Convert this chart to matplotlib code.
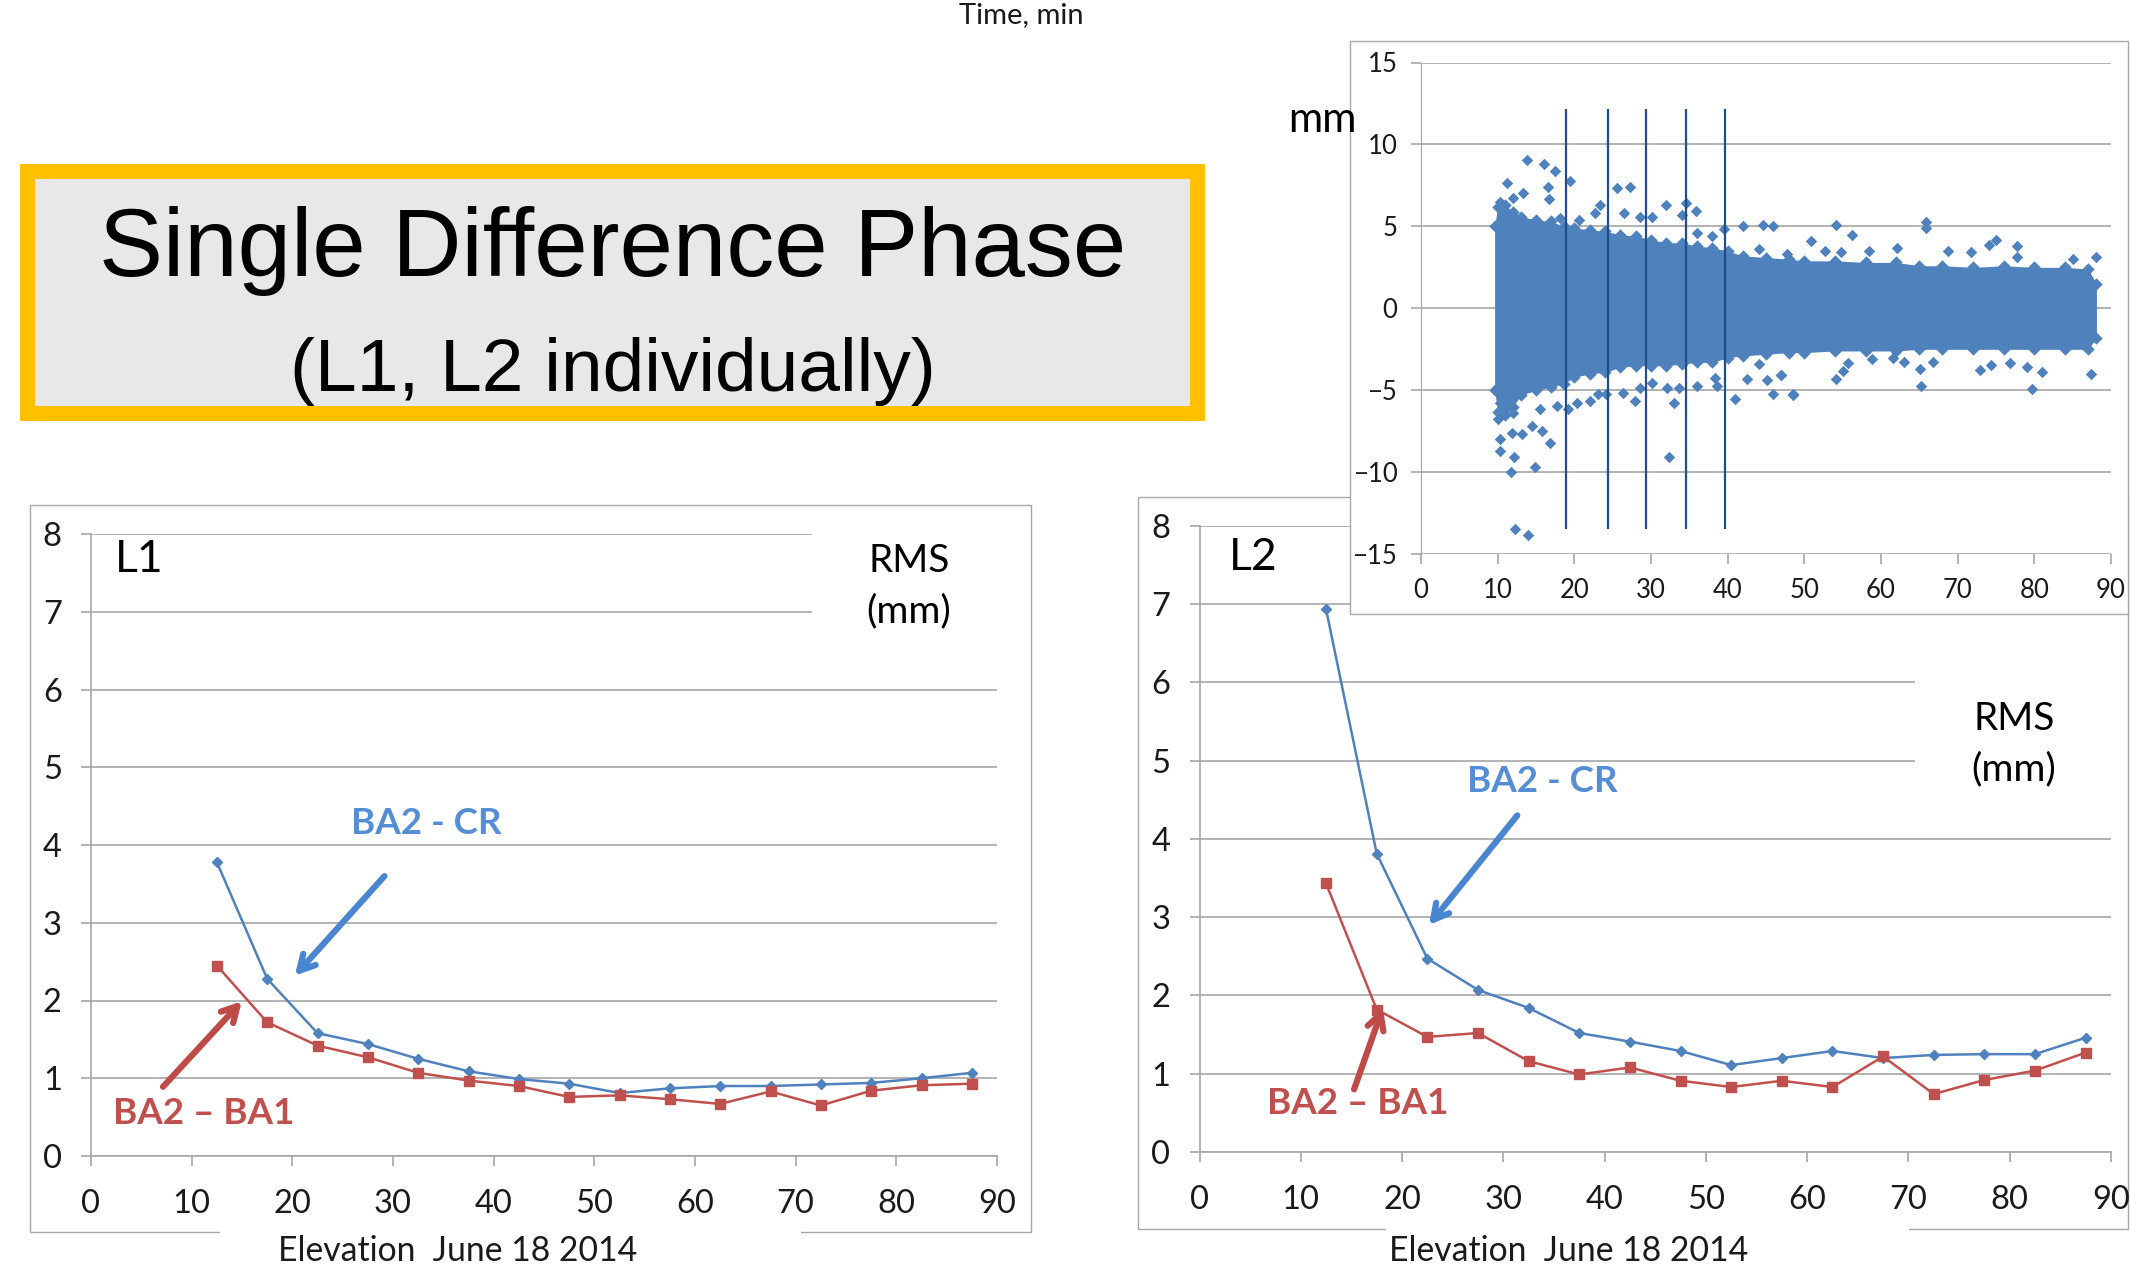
import matplotlib
matplotlib.use("Agg")
import matplotlib.pyplot as plt
from matplotlib.patches import Rectangle

plt.rcParams['font.family'] = ['Lato', 'DejaVu Sans']

# ---------------- data ----------------
elev = [12.5, 17.5, 22.5, 27.5, 32.5, 37.5, 42.5, 47.5, 52.5, 57.5, 62.5, 67.5, 72.5, 77.5, 82.5, 87.5]
l1_cr = [3.78, 2.28, 1.58, 1.44, 1.25, 1.09, 0.99, 0.93, 0.81, 0.87, 0.90, 0.90, 0.92, 0.94, 1.00, 1.07]
l1_ba1 = [2.45, 1.72, 1.42, 1.27, 1.07, 0.97, 0.90, 0.76, 0.78, 0.73, 0.67, 0.83, 0.65, 0.84, 0.91, 0.93]
l2_cr = [6.93, 3.81, 2.47, 2.07, 1.84, 1.52, 1.41, 1.29, 1.11, 1.20, 1.29, 1.20, 1.24, 1.25, 1.25, 1.46]
l2_ba1 = [3.43, 1.82, 1.47, 1.52, 1.16, 0.99, 1.08, 0.91, 0.83, 0.91, 0.83, 1.22, 0.74, 0.92, 1.04, 1.27]

xticks = [0, 10, 20, 30, 40, 50, 60, 70, 80, 90]
rms_yticks = [0, 1, 2, 3, 4, 5, 6, 7, 8]
sc_yticks = [-15, -10, -5, 0, 5, 10, 15]

# scatter inset: dense core envelope
env_x = [9.6, 10.0, 11, 12, 13, 15, 17, 18.6, 20, 22, 24, 26, 28, 30, 32, 34, 36, 38, 40, 42, 45, 48,
         50, 54, 58, 62, 65, 68, 72, 76, 80, 84, 87, 88.1]
env_up = [5.0, 6.2, 6.3, 5.9, 5.6, 5.4, 5.3, 5.0, 4.9, 4.8, 4.7, 4.5, 4.4, 4.2, 4.0, 4.0, 3.8, 3.7, 3.5,
          3.2, 3.1, 3.0, 2.9, 2.9, 2.8, 2.8, 2.6, 2.6, 2.5, 2.6, 2.5, 2.5, 2.4, 1.5]
env_lo = [-5.0, -6.3, -6.5, -6.0, -5.3, -5.0, -4.8, -4.6, -4.2, -4.0, -3.9, -3.6, -3.5, -3.5, -3.5, -3.4,
          -3.3, -3.3, -3.0, -2.9, -2.8, -2.7, -2.7, -2.6, -2.6, -2.6, -2.5, -2.5, -2.5, -2.5, -2.5, -2.5,
          -2.5, -1.8]
# scatter inset: individual points outside the dense core
out_x = [11.18, 13.78, 16.04, 17.48, 19.43, 16.6, 13.35, 12.0, 10.3, 16.74, 23.35, 22.7, 25.6, 27.26, 32.0,
         34.57, 35.87, 34.1, 26.5, 28.57, 30.1, 42.05, 44.56, 45.96, 39.57, 35.96, 38.0, 44.13, 47.7, 20.65,
         18.13, 54.13, 65.87, 65.87, 56.17, 50.82, 74.99, 74.13, 77.69, 88.1, 58.47, 62.04, 68.78, 71.8,
         77.69, 85.08, 52.69, 54.78,
         10.3, 10.08, 12.04, 10.3, 11.83, 13.13, 14.44, 15.74, 16.83, 15.52, 17.7, 19.2, 20.3, 22.04, 23.13,
         24.13, 26.39, 27.9, 28.57, 30.09, 33.05, 32.04, 33.7, 35.96, 38.35, 38.65, 40.96, 42.48, 45.1,
         45.96, 46.96, 48.56, 44.13, 48.56, 54.13, 55.0, 65.17, 65.08, 79.74, 87.4, 72.9, 74.4, 81.0, 79.0,
         66.74, 63.04, 61.6, 58.8, 55.74, 76.8, 47.0,
         12.3, 13.9, 14.9, 11.8, 32.4, 12.1, 10.3]
out_y = [7.66, 9.04, 8.80, 8.39, 7.80, 7.40, 7.05, 6.75, 6.5, 6.7, 6.32, 5.83, 7.36, 7.40, 6.32,
         6.40, 5.93, 5.67, 5.83, 5.59, 5.59, 5.02, 5.06, 5.02, 4.82, 4.61, 4.41, 3.64, 3.29, 5.39,
         5.53, 5.08, 5.28, 4.88, 4.47, 4.13, 4.17, 3.86, 3.80, 3.11, 3.50, 3.66, 3.52, 3.46,
         3.15, 3.01, 3.52, 3.46,
         -5.75, -6.77, -6.36, -7.99, -7.58, -7.68, -7.17, -7.48, -8.19, -6.16, -5.96, -6.16, -5.75, -5.65, -5.24,
         -5.24, -5.14, -5.65, -4.84, -4.53, -5.79, -4.84, -4.84, -4.74, -4.23, -4.74, -5.51, -4.29, -4.37,
         -5.24, -4.09, -5.24, -3.41, -5.28, -4.31, -3.80, -4.74, -3.72, -4.92, -4.0, -3.76, -3.46, -3.90, -3.56,
         -3.25, -3.25, -3.05, -3.11, -3.35, -3.35, -4.07,
         -13.45, -13.8, -9.7, -10.0, -9.1, -9.1, -8.7]
bin_lines = [18.9, 24.4, 29.3, 34.5, 39.7]
bin_lo, bin_hi = -13.45, 12.15

# ---------------- figure ----------------
W, H = 2130, 1264
fig = plt.figure(figsize=(W / 100, H / 100), dpi=100)


def fx(p):
    return p / W


def fy(p):
    return 1 - p / H


def rect_px(x0, y0, x1, y1, **kw):
    r = Rectangle((fx(x0), fy(y1)), (x1 - x0) / W, (y1 - y0) / H, transform=fig.transFigure, **kw)
    fig.add_artist(r)
    return r


def axes_px(x0, y0, x1, y1):
    return fig.add_axes([fx(x0), fy(y1), (x1 - x0) / W, (y1 - y0) / H])


BLUE = '#4F81BD'
RED = '#C0504D'
GRID = '#A6A6A6'
FRAME = '#A6A6A6'
TXT = '#1a1a1a'

# title box
rect_px(20, 164, 1205, 421, facecolor='#FFC000', edgecolor='none', zorder=1)
rect_px(35, 179, 1190, 406, facecolor='#E8E8E8', edgecolor='none', zorder=1.1)
fig.text(fx(613), fy(251), 'Single Difference Phase', family='Liberation Sans', fontsize=69,
         ha='center', va='center', color='black', zorder=5)
fig.text(fx(613), fy(371), '(L1, L2 individually)', family='Liberation Sans', fontsize=54,
         ha='center', va='center', color='black', zorder=5)

fig.text(fx(1021), fy(15), 'Time, min', fontsize=21, ha='center', va='center', color=TXT, zorder=5)

# chart frames
rect_px(30, 505, 1031, 1232, facecolor='white', edgecolor=FRAME, lw=1, zorder=0.2)
rect_px(1138, 497, 2128, 1229, facecolor='white', edgecolor=FRAME, lw=1, zorder=0.2)


def style_rms(ax):
    ax.set_xlim(0, 90)
    ax.set_ylim(0, 8)
    ax.set_xticks(xticks)
    ax.set_yticks(rms_yticks)
    ax.patch.set_visible(False)
    for s in ['top', 'right']:
        ax.spines[s].set_visible(False)
    for s in ['left', 'bottom']:
        ax.spines[s].set_color(GRID)
        ax.spines[s].set_linewidth(1.2)
    ax.grid(axis='y', color=GRID, lw=1.2)
    ax.set_axisbelow(True)
    ax.tick_params(axis='both', direction='out', length=7, width=1.2, color=GRID,
                   labelsize=23.5, labelcolor=TXT)
    ax.tick_params(axis='x', pad=17)
    ax.tick_params(axis='y', pad=14)


axL = axes_px(91, 534, 997, 1156)
axL.set_zorder(1)
style_rms(axL)
axL.plot(elev, l1_cr, color=BLUE, lw=1.8, marker='D', ms=5.5, zorder=3)
axL.plot(elev, l1_ba1, color=RED, lw=1.8, marker='s', ms=7.5, zorder=3)

axR = axes_px(1199.5, 525.7, 2111, 1152)
axR.set_zorder(1)
style_rms(axR)
axR.plot(elev, l2_cr, color=BLUE, lw=1.8, marker='D', ms=5.5, zorder=3)
axR.plot(elev, l2_ba1, color=RED, lw=1.8, marker='s', ms=7.5, zorder=3)

# white cover boxes (text boxes of the slide)
rect_px(812, 518, 1002, 650, facecolor='white', edgecolor='none', zorder=2)
rect_px(1915, 660, 2116, 820, facecolor='white', edgecolor='none', zorder=2)
rect_px(220, 1224, 801, 1264, facecolor='white', edgecolor='none', zorder=2)
rect_px(1386, 1221, 1909, 1264, facecolor='white', edgecolor='none', zorder=2)

# axis labels / annotations
fig.text(fx(458), fy(1251), 'Elevation  June 18 2014', fontsize=24.3, ha='center', va='center', color=TXT, zorder=5)
fig.text(fx(1569), fy(1251), 'Elevation  June 18 2014', fontsize=24.3, ha='center', va='center', color=TXT, zorder=5)
fig.text(fx(115), fy(560), 'L1', fontsize=32, ha='left', va='center', color='black', zorder=5)
fig.text(fx(1229), fy(557), 'L2', fontsize=32, ha='left', va='center', color='black', zorder=5)
fig.text(fx(909), fy(561), 'RMS', fontsize=28, ha='center', va='center', color='black', zorder=5)
fig.text(fx(909), fy(611), '(mm)', fontsize=28, ha='center', va='center', color='black', zorder=5)
fig.text(fx(2014), fy(719), 'RMS', fontsize=28, ha='center', va='center', color='black', zorder=5)
fig.text(fx(2014), fy(769), '(mm)', fontsize=28, ha='center', va='center', color='black', zorder=5)

LBLUE = '#558ED5'
fig.text(fx(426), fy(824), 'BA2 - CR', fontsize=26.5, weight='bold', ha='center', va='center', color=LBLUE, zorder=5)
fig.text(fx(1542), fy(782), 'BA2 - CR', fontsize=26.5, weight='bold', ha='center', va='center', color=LBLUE, zorder=5)
fig.text(fx(204), fy(1114), 'BA2 \u2013 BA1', fontsize=26.5, weight='bold', ha='center', va='center', color=RED, zorder=5)
fig.text(fx(1358), fy(1103), 'BA2 \u2013 BA1', fontsize=26.5, weight='bold', ha='center', va='center', color=RED, zorder=5)

aprops_b = dict(arrowstyle='->,head_length=1.1,head_width=0.6', color='#4A86CF', lw=4.5, shrinkA=0, shrinkB=0)
aprops_r = dict(arrowstyle='->,head_length=1.1,head_width=0.6', color='#BE4B48', lw=4.5, shrinkA=0, shrinkB=0)
axL.annotate('', xy=(20.25, 2.32), xytext=(29.15, 3.60), arrowprops=aprops_b, annotation_clip=False, zorder=6)
axL.annotate('', xy=(14.98, 1.99), xytext=(7.15, 0.89), arrowprops=aprops_r, annotation_clip=False, zorder=6)
axR.annotate('', xy=(22.66, 2.90), xytext=(31.38, 4.30), arrowprops=aprops_b, annotation_clip=False, zorder=6)
axR.annotate('', xy=(18.10, 1.84), xytext=(15.26, 0.80), arrowprops=aprops_r, annotation_clip=False, zorder=6)

# ---------------- scatter inset ----------------
rect_px(1350, 41, 2128, 614, facecolor='white', edgecolor=FRAME, lw=1, zorder=3)
axS = axes_px(1421, 62.5, 2111, 554.2)
axS.set_zorder(4)
axS.patch.set_visible(False)
axS.set_xlim(0, 90)
axS.set_ylim(-15, 15)
axS.set_xticks(xticks)
axS.set_yticks(sc_yticks)
for s in ['top', 'right']:
    axS.spines[s].set_visible(False)
axS.spines['left'].set_color(GRID)
axS.spines['bottom'].set_visible(False)
axS.grid(axis='y', color=GRID, lw=1.2)
axS.set_axisbelow(True)
axS.tick_params(axis='both', direction='out', length=7, width=1.2, color=GRID, labelsize=18.5, labelcolor=TXT)
axS.tick_params(axis='x', pad=10)
axS.tick_params(axis='y', pad=10)
axS.fill_between(env_x, env_lo, env_up, color=BLUE, lw=0, zorder=2)
axS.scatter(env_x, env_up, marker='D', s=40, color=BLUE, lw=0, zorder=2)
axS.scatter(env_x, env_lo, marker='D', s=40, color=BLUE, lw=0, zorder=2)
axS.scatter(out_x, out_y, marker='D', s=34, color=BLUE, lw=0, zorder=2)
axS.vlines(bin_lines, bin_lo, bin_hi, color='#1F4E8C', lw=1.6, zorder=3)
fig.text(fx(1322), fy(120), 'mm', fontsize=30, ha='center', va='center', color='black', zorder=5)

fig.savefig('out.png', dpi=100)
